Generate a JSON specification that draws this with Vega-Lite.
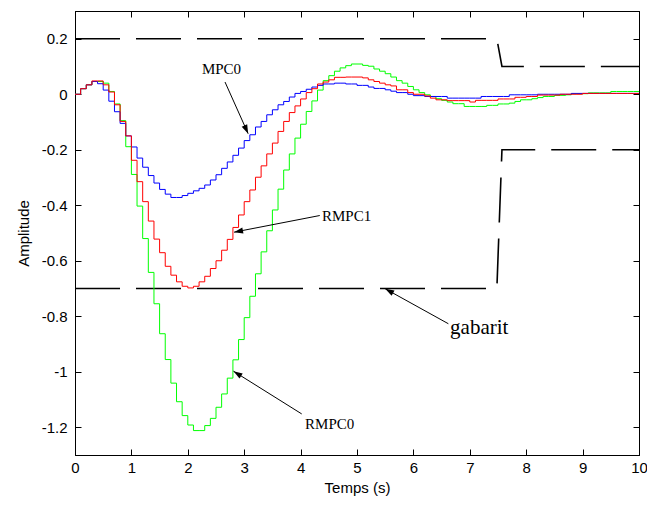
{
"$schema":"https://vega.github.io/schema/vega-lite/v6.json",
"width":564,"height":444,
"autosize":{"type":"none"},
"padding":{"left":75,"top":11,"right":8,"bottom":50},
"background":"white",
"config":{
"view":{"stroke":"black","strokeWidth":1},
"axis":{"domainColor":"black","domainWidth":1,"tickColor":"black","tickWidth":1,"labelColor":"black","titleColor":"black","labelFont":"Liberation Sans","titleFont":"Liberation Sans","labelFontSize":15,"titleFontSize":15,"titleFontWeight":"normal","grid":false,"tickSize":-6,"labelFlush":false,"labelOverlap":false}
},
"datasets":{
"series":[
{"s":"RMPC0","t":0,"v":0},{"s":"RMPC0","t":0.1,"v":0.02},{"s":"RMPC0","t":0.2,"v":0.034},{"s":"RMPC0","t":0.3,"v":0.046},{"s":"RMPC0","t":0.4,"v":0.046},{"s":"RMPC0","t":0.5,"v":0.04},{"s":"RMPC0","t":0.6,"v":0.01},{"s":"RMPC0","t":0.7,"v":-0.035},{"s":"RMPC0","t":0.8,"v":-0.095},{"s":"RMPC0","t":0.9,"v":-0.189},
{"s":"RMPC0","t":1,"v":-0.289},{"s":"RMPC0","t":1.1,"v":-0.403},{"s":"RMPC0","t":1.2,"v":-0.52},{"s":"RMPC0","t":1.3,"v":-0.642},{"s":"RMPC0","t":1.4,"v":-0.755},{"s":"RMPC0","t":1.5,"v":-0.863},{"s":"RMPC0","t":1.6,"v":-0.956},{"s":"RMPC0","t":1.7,"v":-1.041},{"s":"RMPC0","t":1.8,"v":-1.108},{"s":"RMPC0","t":1.9,"v":-1.158},
{"s":"RMPC0","t":2,"v":-1.192},{"s":"RMPC0","t":2.1,"v":-1.212},{"s":"RMPC0","t":2.2,"v":-1.212},{"s":"RMPC0","t":2.3,"v":-1.194},{"s":"RMPC0","t":2.4,"v":-1.168},{"s":"RMPC0","t":2.5,"v":-1.128},{"s":"RMPC0","t":2.6,"v":-1.08},{"s":"RMPC0","t":2.7,"v":-1.023},{"s":"RMPC0","t":2.8,"v":-0.957},{"s":"RMPC0","t":2.9,"v":-0.884},
{"s":"RMPC0","t":3,"v":-0.805},{"s":"RMPC0","t":3.1,"v":-0.728},{"s":"RMPC0","t":3.2,"v":-0.647},{"s":"RMPC0","t":3.3,"v":-0.568},{"s":"RMPC0","t":3.4,"v":-0.492},{"s":"RMPC0","t":3.5,"v":-0.417},{"s":"RMPC0","t":3.6,"v":-0.342},{"s":"RMPC0","t":3.7,"v":-0.273},{"s":"RMPC0","t":3.8,"v":-0.215},{"s":"RMPC0","t":3.9,"v":-0.158},
{"s":"RMPC0","t":4,"v":-0.108},{"s":"RMPC0","t":4.1,"v":-0.062},{"s":"RMPC0","t":4.2,"v":-0.024},{"s":"RMPC0","t":4.3,"v":0.015},{"s":"RMPC0","t":4.4,"v":0.049},{"s":"RMPC0","t":4.5,"v":0.067},{"s":"RMPC0","t":4.6,"v":0.083},{"s":"RMPC0","t":4.7,"v":0.095},{"s":"RMPC0","t":4.8,"v":0.103},{"s":"RMPC0","t":4.9,"v":0.109},
{"s":"RMPC0","t":5,"v":0.109},{"s":"RMPC0","t":5.1,"v":0.104},{"s":"RMPC0","t":5.2,"v":0.101},{"s":"RMPC0","t":5.3,"v":0.091},{"s":"RMPC0","t":5.4,"v":0.083},{"s":"RMPC0","t":5.5,"v":0.074},{"s":"RMPC0","t":5.6,"v":0.062},{"s":"RMPC0","t":5.7,"v":0.049},{"s":"RMPC0","t":5.8,"v":0.04},{"s":"RMPC0","t":5.9,"v":0.028},
{"s":"RMPC0","t":6,"v":0.016},{"s":"RMPC0","t":6.1,"v":0.006},{"s":"RMPC0","t":6.2,"v":-0.002},{"s":"RMPC0","t":6.3,"v":-0.008},{"s":"RMPC0","t":6.4,"v":-0.016},{"s":"RMPC0","t":6.5,"v":-0.022},{"s":"RMPC0","t":6.6,"v":-0.028},{"s":"RMPC0","t":6.7,"v":-0.034},{"s":"RMPC0","t":6.8,"v":-0.034},{"s":"RMPC0","t":6.9,"v":-0.044},
{"s":"RMPC0","t":7,"v":-0.044},{"s":"RMPC0","t":7.1,"v":-0.044},{"s":"RMPC0","t":7.2,"v":-0.044},{"s":"RMPC0","t":7.3,"v":-0.04},{"s":"RMPC0","t":7.4,"v":-0.04},{"s":"RMPC0","t":7.5,"v":-0.035},{"s":"RMPC0","t":7.6,"v":-0.035},{"s":"RMPC0","t":7.7,"v":-0.032},{"s":"RMPC0","t":7.8,"v":-0.026},{"s":"RMPC0","t":7.9,"v":-0.02},
{"s":"RMPC0","t":8,"v":-0.02},{"s":"RMPC0","t":8.1,"v":-0.016},{"s":"RMPC0","t":8.2,"v":-0.012},{"s":"RMPC0","t":8.3,"v":-0.008},{"s":"RMPC0","t":8.4,"v":-0.008},{"s":"RMPC0","t":8.5,"v":-0.004},{"s":"RMPC0","t":8.6,"v":-0.004},{"s":"RMPC0","t":8.7,"v":-0.002},{"s":"RMPC0","t":8.8,"v":0.002},{"s":"RMPC0","t":8.9,"v":0.002},
{"s":"RMPC0","t":9,"v":0.002},{"s":"RMPC0","t":9.1,"v":0.005},{"s":"RMPC0","t":9.2,"v":0.005},{"s":"RMPC0","t":9.3,"v":0.005},{"s":"RMPC0","t":9.4,"v":0.005},{"s":"RMPC0","t":9.5,"v":0.01},{"s":"RMPC0","t":9.6,"v":0.01},{"s":"RMPC0","t":9.7,"v":0.01},{"s":"RMPC0","t":9.8,"v":0.01},{"s":"RMPC0","t":9.9,"v":0.01},{"s":"RMPC0","t":10,"v":0.01},
{"s":"MPC0","t":0,"v":0},{"s":"MPC0","t":0.1,"v":0.02},{"s":"MPC0","t":0.2,"v":0.034},{"s":"MPC0","t":0.3,"v":0.046},{"s":"MPC0","t":0.4,"v":0.038},{"s":"MPC0","t":0.5,"v":0.015},{"s":"MPC0","t":0.6,"v":-0.025},{"s":"MPC0","t":0.7,"v":-0.063},{"s":"MPC0","t":0.8,"v":-0.105},{"s":"MPC0","t":0.9,"v":-0.15},
{"s":"MPC0","t":1,"v":-0.19},{"s":"MPC0","t":1.1,"v":-0.23},{"s":"MPC0","t":1.2,"v":-0.263},{"s":"MPC0","t":1.3,"v":-0.293},{"s":"MPC0","t":1.4,"v":-0.32},{"s":"MPC0","t":1.5,"v":-0.343},{"s":"MPC0","t":1.6,"v":-0.36},{"s":"MPC0","t":1.7,"v":-0.372},{"s":"MPC0","t":1.8,"v":-0.372},{"s":"MPC0","t":1.9,"v":-0.365},
{"s":"MPC0","t":2,"v":-0.357},{"s":"MPC0","t":2.1,"v":-0.348},{"s":"MPC0","t":2.2,"v":-0.339},{"s":"MPC0","t":2.3,"v":-0.327},{"s":"MPC0","t":2.4,"v":-0.309},{"s":"MPC0","t":2.5,"v":-0.29},{"s":"MPC0","t":2.6,"v":-0.267},{"s":"MPC0","t":2.7,"v":-0.244},{"s":"MPC0","t":2.8,"v":-0.22},{"s":"MPC0","t":2.9,"v":-0.194},
{"s":"MPC0","t":3,"v":-0.167},{"s":"MPC0","t":3.1,"v":-0.146},{"s":"MPC0","t":3.2,"v":-0.118},{"s":"MPC0","t":3.3,"v":-0.098},{"s":"MPC0","t":3.4,"v":-0.074},{"s":"MPC0","t":3.5,"v":-0.056},{"s":"MPC0","t":3.6,"v":-0.038},{"s":"MPC0","t":3.7,"v":-0.026},{"s":"MPC0","t":3.8,"v":-0.01},{"s":"MPC0","t":3.9,"v":0.003},
{"s":"MPC0","t":4,"v":0.01},{"s":"MPC0","t":4.1,"v":0.018},{"s":"MPC0","t":4.2,"v":0.026},{"s":"MPC0","t":4.3,"v":0.032},{"s":"MPC0","t":4.4,"v":0.037},{"s":"MPC0","t":4.5,"v":0.037},{"s":"MPC0","t":4.6,"v":0.04},{"s":"MPC0","t":4.7,"v":0.04},{"s":"MPC0","t":4.8,"v":0.037},{"s":"MPC0","t":4.9,"v":0.037},
{"s":"MPC0","t":5,"v":0.032},{"s":"MPC0","t":5.1,"v":0.032},{"s":"MPC0","t":5.2,"v":0.026},{"s":"MPC0","t":5.3,"v":0.021},{"s":"MPC0","t":5.4,"v":0.021},{"s":"MPC0","t":5.5,"v":0.016},{"s":"MPC0","t":5.6,"v":0.011},{"s":"MPC0","t":5.7,"v":0.006},{"s":"MPC0","t":5.8,"v":0.006},{"s":"MPC0","t":5.9,"v":0},
{"s":"MPC0","t":6,"v":-0.005},{"s":"MPC0","t":6.1,"v":-0.005},{"s":"MPC0","t":6.2,"v":-0.008},{"s":"MPC0","t":6.3,"v":-0.008},{"s":"MPC0","t":6.4,"v":-0.008},{"s":"MPC0","t":6.5,"v":-0.008},{"s":"MPC0","t":6.6,"v":-0.014},{"s":"MPC0","t":6.7,"v":-0.014},{"s":"MPC0","t":6.8,"v":-0.014},{"s":"MPC0","t":6.9,"v":-0.014},
{"s":"MPC0","t":7,"v":-0.014},{"s":"MPC0","t":7.1,"v":-0.014},{"s":"MPC0","t":7.2,"v":-0.008},{"s":"MPC0","t":7.3,"v":-0.008},{"s":"MPC0","t":7.4,"v":-0.008},{"s":"MPC0","t":7.5,"v":-0.008},{"s":"MPC0","t":7.6,"v":-0.008},{"s":"MPC0","t":7.7,"v":-0.002},{"s":"MPC0","t":7.8,"v":-0.002},{"s":"MPC0","t":7.9,"v":-0.002},
{"s":"MPC0","t":8,"v":-0.002},{"s":"MPC0","t":8.1,"v":-0.002},{"s":"MPC0","t":8.2,"v":0},{"s":"MPC0","t":8.3,"v":0},{"s":"MPC0","t":8.4,"v":0},{"s":"MPC0","t":8.5,"v":0},{"s":"MPC0","t":8.6,"v":0},{"s":"MPC0","t":8.7,"v":0},{"s":"MPC0","t":8.8,"v":0.003},{"s":"MPC0","t":8.9,"v":0.003},
{"s":"MPC0","t":9,"v":0.003},{"s":"MPC0","t":9.1,"v":0.003},{"s":"MPC0","t":9.2,"v":0.003},{"s":"MPC0","t":9.3,"v":0.003},{"s":"MPC0","t":9.4,"v":0.003},{"s":"MPC0","t":9.5,"v":0.003},{"s":"MPC0","t":9.6,"v":0.003},{"s":"MPC0","t":9.7,"v":0.003},{"s":"MPC0","t":9.8,"v":0.003},{"s":"MPC0","t":9.9,"v":0.003},{"s":"MPC0","t":10,"v":0.003},
{"s":"RMPC1","t":0,"v":0},{"s":"RMPC1","t":0.1,"v":0.02},{"s":"RMPC1","t":0.2,"v":0.034},{"s":"RMPC1","t":0.3,"v":0.048},{"s":"RMPC1","t":0.4,"v":0.048},{"s":"RMPC1","t":0.5,"v":0.034},{"s":"RMPC1","t":0.6,"v":0.008},{"s":"RMPC1","t":0.7,"v":-0.038},{"s":"RMPC1","t":0.8,"v":-0.098},{"s":"RMPC1","t":0.9,"v":-0.15},
{"s":"RMPC1","t":1,"v":-0.238},{"s":"RMPC1","t":1.1,"v":-0.315},{"s":"RMPC1","t":1.2,"v":-0.387},{"s":"RMPC1","t":1.3,"v":-0.457},{"s":"RMPC1","t":1.4,"v":-0.522},{"s":"RMPC1","t":1.5,"v":-0.571},{"s":"RMPC1","t":1.6,"v":-0.62},{"s":"RMPC1","t":1.7,"v":-0.652},{"s":"RMPC1","t":1.8,"v":-0.676},{"s":"RMPC1","t":1.9,"v":-0.692},
{"s":"RMPC1","t":2,"v":-0.698},{"s":"RMPC1","t":2.1,"v":-0.692},{"s":"RMPC1","t":2.2,"v":-0.676},{"s":"RMPC1","t":2.3,"v":-0.656},{"s":"RMPC1","t":2.4,"v":-0.628},{"s":"RMPC1","t":2.5,"v":-0.6},{"s":"RMPC1","t":2.6,"v":-0.562},{"s":"RMPC1","t":2.7,"v":-0.523},{"s":"RMPC1","t":2.8,"v":-0.48},{"s":"RMPC1","t":2.9,"v":-0.435},
{"s":"RMPC1","t":3,"v":-0.387},{"s":"RMPC1","t":3.1,"v":-0.345},{"s":"RMPC1","t":3.2,"v":-0.299},{"s":"RMPC1","t":3.3,"v":-0.258},{"s":"RMPC1","t":3.4,"v":-0.215},{"s":"RMPC1","t":3.5,"v":-0.176},{"s":"RMPC1","t":3.6,"v":-0.134},{"s":"RMPC1","t":3.7,"v":-0.098},{"s":"RMPC1","t":3.8,"v":-0.066},{"s":"RMPC1","t":3.9,"v":-0.042},
{"s":"RMPC1","t":4,"v":-0.017},{"s":"RMPC1","t":4.1,"v":0.006},{"s":"RMPC1","t":4.2,"v":0.02},{"s":"RMPC1","t":4.3,"v":0.037},{"s":"RMPC1","t":4.4,"v":0.044},{"s":"RMPC1","t":4.5,"v":0.052},{"s":"RMPC1","t":4.6,"v":0.061},{"s":"RMPC1","t":4.7,"v":0.061},{"s":"RMPC1","t":4.8,"v":0.062},{"s":"RMPC1","t":4.9,"v":0.062},
{"s":"RMPC1","t":5,"v":0.062},{"s":"RMPC1","t":5.1,"v":0.059},{"s":"RMPC1","t":5.2,"v":0.052},{"s":"RMPC1","t":5.3,"v":0.046},{"s":"RMPC1","t":5.4,"v":0.04},{"s":"RMPC1","t":5.5,"v":0.034},{"s":"RMPC1","t":5.6,"v":0.03},{"s":"RMPC1","t":5.7,"v":0.016},{"s":"RMPC1","t":5.8,"v":0.016},{"s":"RMPC1","t":5.9,"v":0.006},
{"s":"RMPC1","t":6,"v":0},{"s":"RMPC1","t":6.1,"v":0},{"s":"RMPC1","t":6.2,"v":-0.006},{"s":"RMPC1","t":6.3,"v":-0.014},{"s":"RMPC1","t":6.4,"v":-0.02},{"s":"RMPC1","t":6.5,"v":-0.02},{"s":"RMPC1","t":6.6,"v":-0.023},{"s":"RMPC1","t":6.7,"v":-0.023},{"s":"RMPC1","t":6.8,"v":-0.023},{"s":"RMPC1","t":6.9,"v":-0.023},
{"s":"RMPC1","t":7,"v":-0.028},{"s":"RMPC1","t":7.1,"v":-0.022},{"s":"RMPC1","t":7.2,"v":-0.022},{"s":"RMPC1","t":7.3,"v":-0.022},{"s":"RMPC1","t":7.4,"v":-0.022},{"s":"RMPC1","t":7.5,"v":-0.017},{"s":"RMPC1","t":7.6,"v":-0.017},{"s":"RMPC1","t":7.7,"v":-0.017},{"s":"RMPC1","t":7.8,"v":-0.011},{"s":"RMPC1","t":7.9,"v":-0.011},
{"s":"RMPC1","t":8,"v":-0.008},{"s":"RMPC1","t":8.1,"v":-0.008},{"s":"RMPC1","t":8.2,"v":-0.003},{"s":"RMPC1","t":8.3,"v":-0.003},{"s":"RMPC1","t":8.4,"v":-0.003},{"s":"RMPC1","t":8.5,"v":-0.003},{"s":"RMPC1","t":8.6,"v":0},{"s":"RMPC1","t":8.7,"v":0},{"s":"RMPC1","t":8.8,"v":0},{"s":"RMPC1","t":8.9,"v":0},
{"s":"RMPC1","t":9,"v":0.003},{"s":"RMPC1","t":9.1,"v":0.003},{"s":"RMPC1","t":9.2,"v":0.003},{"s":"RMPC1","t":9.3,"v":0.003},{"s":"RMPC1","t":9.4,"v":0.003},{"s":"RMPC1","t":9.5,"v":0.003},{"s":"RMPC1","t":9.6,"v":0.003},{"s":"RMPC1","t":9.7,"v":0.003},{"s":"RMPC1","t":9.8,"v":0.003},{"s":"RMPC1","t":9.9,"v":0.003},{"s":"RMPC1","t":10,"v":0.003}
],
"gabarit":[
{"g":"haut","t":0,"v":0.2},{"g":"haut","t":7.48,"v":0.2},{"g":"haut","t":7.57,"v":0.1},{"g":"haut","t":10,"v":0.1},
{"g":"bas","t":0,"v":-0.7},{"g":"bas","t":7.48,"v":-0.7},{"g":"bas","t":7.57,"v":-0.2},{"g":"bas","t":10,"v":-0.2}
],
"arrows":[
{"label":"MPC0","t0":2.66,"v0":0.044,"t1":3.07,"v1":-0.142},
{"label":"RMPC1","t0":4.34,"v0":-0.437,"t1":2.82,"v1":-0.497},
{"label":"RMPC0","t0":4.02,"v0":-1.152,"t1":2.81,"v1":-0.998},
{"label":"gabarit","t0":6.62,"v0":-0.827,"t1":5.5,"v1":-0.701}
],
"labels":[
{"label":"MPC0","t":2.25,"v":0.074},
{"label":"RMPC1","t":4.38,"v":-0.455},
{"label":"RMPC0","t":4.08,"v":-1.206},
{"label":"gabarit","t":6.65,"v":-0.863}
]
},
"layer":[
{
"data":{"name":"gabarit"},
"mark":{"type":"line","color":"black","strokeWidth":1.6,"strokeDash":[45,16]},
"encoding":{
"x":{"field":"t","type":"quantitative","scale":{"domain":[0,10],"nice":false,"zero":false},"axis":{"orient":"top","values":[0,1,2,3,4,5,6,7,8,9,10],"labels":false,"title":null}},
"y":{"field":"v","type":"quantitative","scale":{"domain":[-1.3,0.3],"nice":false,"zero":false},"axis":{"orient":"right","values":[-1.2,-1,-0.8,-0.6,-0.4,-0.2,0,0.2],"labels":false,"title":null}},
"detail":{"field":"g","type":"nominal"}
}
},
{
"data":{"name":"series"},
"mark":{"type":"line","interpolate":"step-after","strokeWidth":1},
"encoding":{
"x":{"field":"t","type":"quantitative","scale":{"domain":[0,10],"nice":false,"zero":false},"axis":{"orient":"bottom","values":[0,1,2,3,4,5,6,7,8,9,10],"title":"Temps (s)","labelPadding":11,"titlePadding":5,"labelExpr":"''+datum.value"}},
"y":{"field":"v","type":"quantitative","scale":{"domain":[-1.3,0.3],"nice":false,"zero":false},"axis":{"orient":"left","values":[-1.2,-1,-0.8,-0.6,-0.4,-0.2,0,0.2],"title":"Amplitude","labelPadding":14,"titlePadding":10,"labelExpr":"''+datum.value"}},
"color":{"field":"s","type":"nominal","scale":{"domain":["MPC0","RMPC1","RMPC0"],"range":["#0000ff","#ff0000","#00ff00"]},"legend":null}
}
},
{
"data":{"name":"arrows"},
"mark":{"type":"rule","color":"black","strokeWidth":1},
"encoding":{
"x":{"field":"t0","type":"quantitative","scale":{"domain":[0,10]},"axis":null},
"y":{"field":"v0","type":"quantitative","scale":{"domain":[-1.3,0.3]},"axis":null},
"x2":{"field":"t1"},
"y2":{"field":"v1"}
}
},
{
"data":{"name":"arrows"},
"transform":[{"filter":"datum.label == 'MPC0'"}],
"mark":{"type":"point","shape":"M0,0L-0.6,1.8L0.6,1.8Z","filled":true,"color":"black","opacity":1,"size":100,"angle":155.7},
"encoding":{
"x":{"field":"t1","type":"quantitative","scale":{"domain":[0,10]},"axis":null},
"y":{"field":"v1","type":"quantitative","scale":{"domain":[-1.3,0.3]},"axis":null}
}
},
{
"data":{"name":"arrows"},
"transform":[{"filter":"datum.label == 'RMPC1'"}],
"mark":{"type":"point","shape":"M0,0L-0.6,1.8L0.6,1.8Z","filled":true,"color":"black","opacity":1,"size":100,"angle":259},
"encoding":{
"x":{"field":"t1","type":"quantitative","scale":{"domain":[0,10]},"axis":null},
"y":{"field":"v1","type":"quantitative","scale":{"domain":[-1.3,0.3]},"axis":null}
}
},
{
"data":{"name":"arrows"},
"transform":[{"filter":"datum.label == 'RMPC0'"}],
"mark":{"type":"point","shape":"M0,0L-0.6,1.8L0.6,1.8Z","filled":true,"color":"black","opacity":1,"size":100,"angle":302},
"encoding":{
"x":{"field":"t1","type":"quantitative","scale":{"domain":[0,10]},"axis":null},
"y":{"field":"v1","type":"quantitative","scale":{"domain":[-1.3,0.3]},"axis":null}
}
},
{
"data":{"name":"arrows"},
"transform":[{"filter":"datum.label == 'gabarit'"}],
"mark":{"type":"point","shape":"M0,0L-0.6,1.8L0.6,1.8Z","filled":true,"color":"black","opacity":1,"size":100,"angle":299},
"encoding":{
"x":{"field":"t1","type":"quantitative","scale":{"domain":[0,10]},"axis":null},
"y":{"field":"v1","type":"quantitative","scale":{"domain":[-1.3,0.3]},"axis":null}
}
},
{
"data":{"name":"labels"},
"transform":[{"filter":"datum.label != 'gabarit'"}],
"mark":{"type":"text","font":"Liberation Serif","fontSize":15,"align":"left","baseline":"alphabetic","color":"black"},
"encoding":{
"x":{"field":"t","type":"quantitative","scale":{"domain":[0,10]},"axis":null},
"y":{"field":"v","type":"quantitative","scale":{"domain":[-1.3,0.3]},"axis":null},
"text":{"field":"label"}
}
},
{
"data":{"name":"labels"},
"transform":[{"filter":"datum.label == 'gabarit'"}],
"mark":{"type":"text","font":"Liberation Serif","fontSize":21,"align":"left","baseline":"alphabetic","color":"black"},
"encoding":{
"x":{"field":"t","type":"quantitative","scale":{"domain":[0,10]},"axis":null},
"y":{"field":"v","type":"quantitative","scale":{"domain":[-1.3,0.3]},"axis":null},
"text":{"field":"label"}
}
}
],
"resolve":{"axis":{"x":"independent","y":"independent"}}
}
